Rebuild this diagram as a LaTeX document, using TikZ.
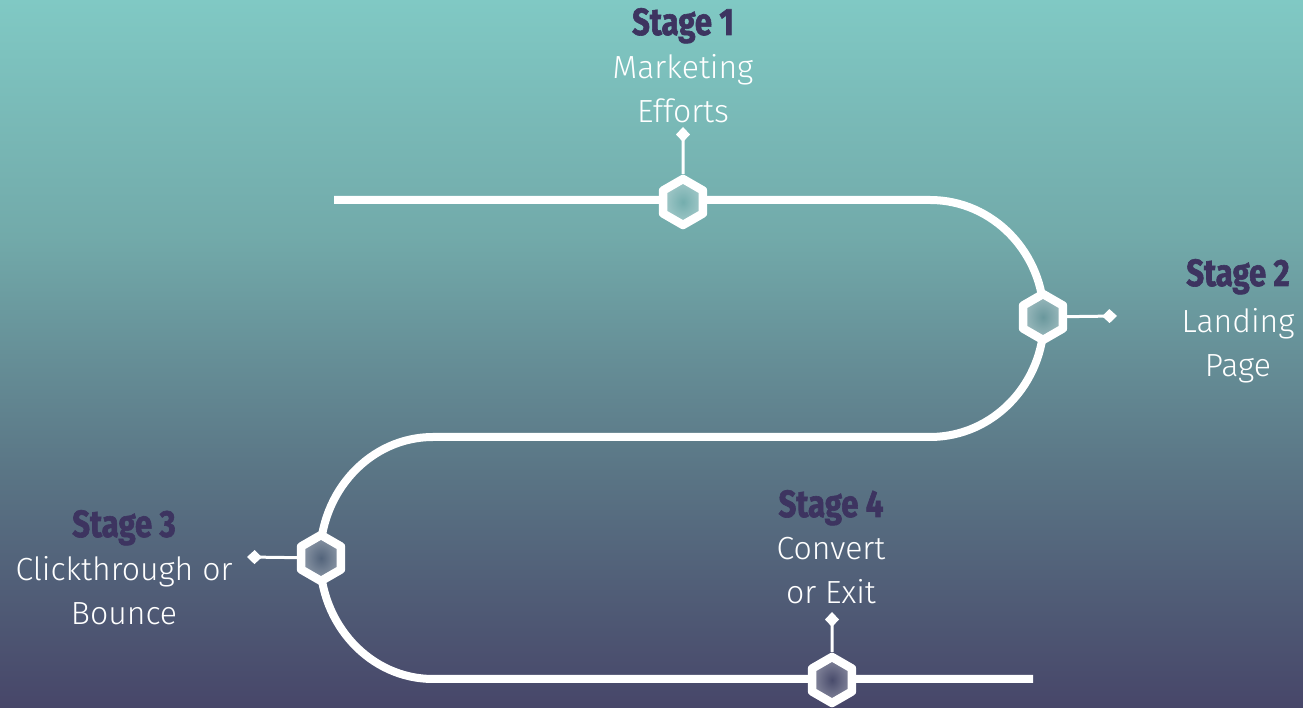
\documentclass[tikz,border=0pt]{standalone}
\usepackage{fontspec}
\setmainfont{Fira Sans}[UprightFont=* Light]
\newfontfamily\headfont{Fira Sans}[FakeStretch=0.82, BoldFeatures={FakeBold=1.6}]
\usetikzlibrary{arrows.meta,shapes.geometric,fadings}
\definecolor{bgA}{RGB}{128,201,196}
\definecolor{bgB}{RGB}{114,170,170}
\definecolor{bgC}{RGB}{90,117,133}
\definecolor{bgD}{RGB}{71,70,105}
\definecolor{head}{RGB}{61,52,96}
\pgfdeclareverticalshading{bgfade}{100bp}{color(0bp)=(bgD); color(25bp)=(bgD); color(41.67bp)=(bgC); color(58.33bp)=(bgB); color(75bp)=(bgA); color(100bp)=(bgA)}
\tikzfading[name=hexglow, inner color=transparent!100, outer color=transparent!65]

\begin{document}
\begin{tikzpicture}[x=1pt,y=1pt,
track/.style={white,line width=8pt},
hexnode/.style={regular polygon,regular polygon sides=6,rotate=30,minimum size=46pt,inner sep=0pt,
  draw=white,line width=8.5pt,line join=round,fill=#1,postaction={fill=white,path fading=hexglow}},
stem/.style={white,line width=3pt,-{Turned Square[length=15pt,width=14pt]}},
stagehead/.style={font=\headfont\bfseries\fontsize{38}{44}\selectfont,text=head,inner sep=0pt},
stagetext/.style={font=\fontsize{32}{44}\selectfont,text=white,align=center,inner sep=0pt}]
% Background
\shade[shading=bgfade] (0,0) rectangle (1303,708);
\useasboundingbox (0,0) rectangle (1303,708);

% Road
\draw[track] (334,508) -- (930,508)
  arc[start angle=90,end angle=-90,x radius=114,y radius=118.5] -- (433,271)
  arc[start angle=90,end angle=270,x radius=113,y radius=121] -- (1033,29);

% Stages
\node[hexnode=bgB!86!bgA] (h1) at (683,506) {};
\node[hexnode=bgC!34!bgB] (h2) at (1043,391) {};
\node[hexnode=bgD!36!bgC] (h3) at (321,150) {};
\node[hexnode=bgD!88!bgC] (h4) at (832,28) {};

\draw
(683,581) coordinate (d1)
(1117,392) coordinate (d2)
(247,151) coordinate (d3)
(832,96) coordinate (d4);

\draw[stem] (h1) -- (d1);
\draw[stem] (h2) -- (d2);
\draw[stem] (h3) -- (d3);
\draw[stem] (h4) -- (d4);

% Labels (base = last line)
\node[stagehead,anchor=base] (t1) at (683,673) {Stage 1};
\node[stagetext,anchor=base] (l1) at (683,585) {Marketing\\Efforts};
\node[stagehead,anchor=base] (t2) at (1238,422) {Stage 2};
\node[stagetext,anchor=base] (l2) at (1238,331) {Landing\\Page};
\node[stagehead,anchor=base] (t3) at (124,171) {Stage 3};
\node[stagetext,anchor=base] (l3) at (124,83) {Clickthrough or\\Bounce};
\node[stagehead,anchor=base] (t4) at (831,191) {Stage 4};
\node[stagetext,anchor=base] (l4) at (831,104) {Convert\\or Exit};
\end{tikzpicture}
\end{document}
